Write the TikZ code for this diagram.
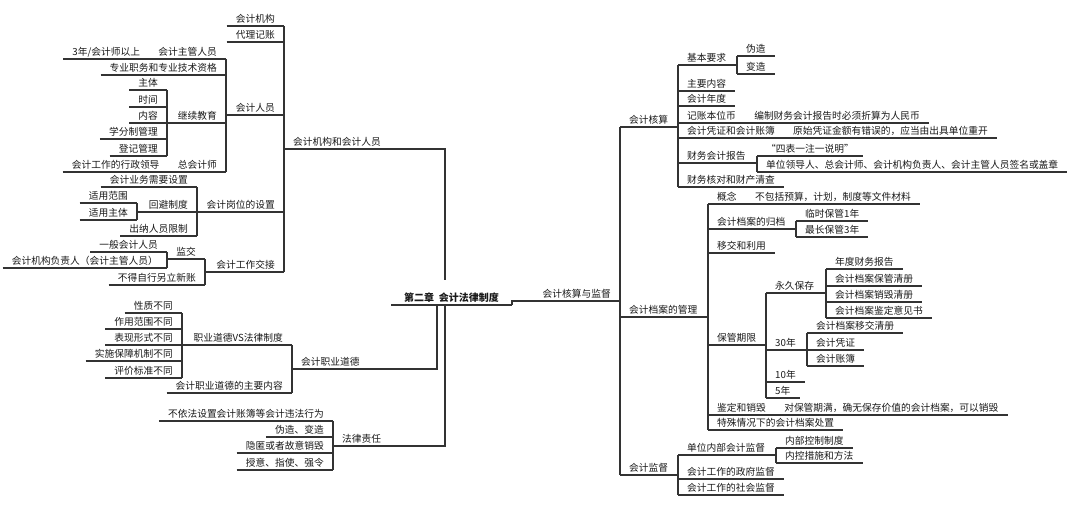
\documentclass[tikz,border=0pt]{standalone}
\usepackage{fontspec}
\setmainfont{Noto Sans CJK SC}
\usepackage{tikz}
\tikzset{font=\fontsize{7.3pt}{8.5pt}\selectfont,
  box/.style={inner xsep=6.5pt,inner ysep=1.6pt,text depth=0.6pt,text=black!90,
    append after command={(\tikzlastnode.south west) edge (\tikzlastnode.south east)}},
  lbox/.style={box,anchor=south east},
  rbox/.style={box,anchor=south west},
  root/.style={box,anchor=south west,inner xsep=9.5pt,font=\fontsize{7.5pt}{9pt}\selectfont\bfseries},
  elbow/.style={to path={-| (\tikztotarget)}},
  elbowv/.style={to path={|- (\tikztotarget)}}}

\begin{document}
\begin{tikzpicture}[x=0.75pt,y=-0.75pt,color=black!80,line width=0.8pt]
\useasboundingbox (0,0) rectangle (1080,510);
% centre
\node[root] (ZH) at (391,305) {第二章~~会计法律制度};
\coordinate (zt) at (445,280);
\coordinate (zb1) at (437,305);
\coordinate (zb2) at (445,305);
% 会计机构和会计人员
\node[rbox] (JG) at (284,149) {会计机构和会计人员};
\node[lbox] (JG1) at (284,26) {会计机构};
\node[lbox] (JG2) at (284,42) {代理记账};
\node[lbox] (RY) at (284,115) {会计人员};
\node[lbox] (GW) at (284,212) {会计岗位的设置};
\node[lbox] (JJ) at (284,272) {会计工作交接};
\node[lbox] (ZG) at (226,59) {会计主管人员};
\node[lbox] (ZG1) at (ZG.south west) {3年/会计师以上};
\node[lbox] (ZY) at (226,75) {专业职务和专业技术资格};
\node[lbox] (JY) at (226,123) {继续教育};
\node[lbox] (ZK) at (226,172) {总会计师};
\node[lbox] (ZK1) at (ZK.south west) {会计工作的行政领导};
\node[lbox] (JY1) at (167,90) {主体};
\node[lbox] (JY2) at (167,107) {时间};
\node[lbox] (JY3) at (167,123) {内容};
\node[lbox] (JY4) at (167,139) {学分制管理};
\node[lbox] (JY5) at (167,156) {登记管理};
\node[lbox] (GW1) at (197,187) {会计业务需要设置};
\node[lbox] (HB) at (197,212) {回避制度};
\node[lbox] (GW2) at (197,236) {出纳人员限制};
\node[lbox] (HB1) at (137,203) {适用范围};
\node[lbox] (HB2) at (137,220) {适用主体};
\node[lbox] (JX) at (205,259) {监交};
\node[lbox] (JJ1) at (205,285) {不得自行另立新账};
\node[lbox] (JX1) at (167,252) {一般会计人员};
\node[lbox] (JX2) at (167,268) {会计机构负责人（会计主管人员）};
% 会计职业道德
\node[rbox] (DD) at (292,369) {会计职业道德};
\node[lbox] (VS) at (292,345) {职业道德VS法律制度};
\node[lbox] (DD2) at (292,393) {会计职业道德的主要内容};
\node[lbox] (VS1) at (182,313) {性质不同};
\node[lbox] (VS2) at (182,329) {作用范围不同};
\node[lbox] (VS3) at (182,345) {表现形式不同};
\node[lbox] (VS4) at (182,361) {实施保障机制不同};
\node[lbox] (VS5) at (182,378) {评价标准不同};
% 法律责任
\node[rbox] (ZR) at (333,446) {法律责任};
\node[lbox] (ZR1) at (333,421) {不依法设置会计账簿等会计违法行为};
\node[lbox] (ZR2) at (333,437) {伪造、变造};
\node[lbox] (ZR3) at (333,453) {隐匿或者故意销毁};
\node[lbox] (ZR4) at (333,470) {授意、指使、强令};
% 会计核算与监督
\node[lbox] (HS) at (620,301) {会计核算与监督};
\node[rbox] (HE) at (620,127) {会计核算};
\node[rbox] (DA) at (620,317) {会计档案的管理};
\node[rbox] (JD) at (620,475) {会计监督};
\node[rbox] (HE1) at (678,65) {基本要求};
\node[rbox] (HE1a) at (737,56) {伪造};
\node[rbox] (HE1b) at (737,74) {变造};
\node[rbox] (HE2) at (678,91) {主要内容};
\node[rbox] (HE3) at (678,106) {会计年度};
\node[rbox] (HE4) at (678,123) {记账本位币};
\node[rbox] (HE4a) at (HE4.south east) {编制财务会计报告时必须折算为人民币};
\node[rbox] (HE5) at (678,138) {会计凭证和会计账簿};
\node[rbox] (HE5a) at (HE5.south east) {原始凭证金额有错误的，应当由出具单位重开};
\node[rbox] (HE6) at (678,163) {财务会计报告};
\node[rbox] (HE6a) at (757,156) {“四表一注一说明”};
\node[rbox] (HE6b) at (757,172) {单位领导人、总会计师、会计机构负责人、会计主管人员签名或盖章};
\node[rbox] (HE7) at (678,187) {财务核对和财产清查};
\node[rbox] (DA1) at (708,204) {概念};
\node[rbox] (DA1a) at (DA1.south east) {不包括预算，计划，制度等文件材料};
\node[rbox] (DA2) at (708,229) {会计档案的归档};
\node[rbox] (DA2a) at (796,221) {临时保管1年};
\node[rbox] (DA2b) at (796,237) {最长保管3年};
\node[rbox] (DA3) at (708,253) {移交和利用};
\node[rbox] (QX) at (708,345) {保管期限};
\node[rbox] (YJ) at (766,293) {永久保存};
\node[rbox] (YJ1) at (826,269) {年度财务报告};
\node[rbox] (YJ2) at (826,286) {会计档案保管清册};
\node[rbox] (YJ3) at (826,302) {会计档案销毁清册};
\node[rbox] (YJ4) at (826,318) {会计档案鉴定意见书};
\node[rbox] (SS) at (766,350) {30年};
\node[rbox] (SS1) at (807,333) {会计档案移交清册};
\node[rbox] (SS2) at (807,350) {会计凭证};
\node[rbox] (SS3) at (807,366) {会计账簿};
\node[rbox] (SN) at (766,382) {10年};
\node[rbox] (WN) at (766,398) {5年};
\node[rbox] (DA5) at (708,415) {鉴定和销毁};
\node[rbox] (DA5a) at (DA5.south east) {对保管期满，确无保存价值的会计档案，可以销毁};
\node[rbox] (DA6) at (708,430) {特殊情况下的会计档案处置};
\node[rbox] (JD1) at (678,455) {单位内部会计监督};
\node[rbox] (JD1a) at (776,448) {内部控制制度};
\node[rbox] (JD1b) at (776,463) {内控措施和方法};
\node[rbox] (JD2) at (678,479) {会计工作的政府监督};
\node[rbox] (JD3) at (678,495) {会计工作的社会监督};
% connectors
\path (JG.south east) edge[elbow] (zt);
\path (DD.south east) edge[elbow] (zb1);
\path (ZR.south east) edge[elbow] (zb2);
\path (ZH.south east) edge[elbowv] (HS.south west);
\path (JG.south west) edge[elbow] (JG1.south east) edge[elbow] (JG2.south east) edge[elbow] (RY.south east) edge[elbow] (GW.south east) edge[elbow] (JJ.south east);
\path (RY.south west) edge[elbow] (ZG.south east) edge[elbow] (ZY.south east) edge[elbow] (JY.south east) edge[elbow] (ZK.south east);
\path (ZG.south west) edge (ZG1.south east);
\path (ZK.south west) edge (ZK1.south east);
\path (JY.south west) edge[elbow] (JY1.south east) edge[elbow] (JY2.south east) edge[elbow] (JY3.south east) edge[elbow] (JY4.south east) edge[elbow] (JY5.south east);
\path (GW.south west) edge[elbow] (GW1.south east) edge[elbow] (HB.south east) edge[elbow] (GW2.south east);
\path (HB.south west) edge[elbow] (HB1.south east) edge[elbow] (HB2.south east);
\path (JJ.south west) edge[elbow] (JX.south east) edge[elbow] (JJ1.south east);
\path (JX.south west) edge[elbow] (JX1.south east) edge[elbow] (JX2.south east);
\path (DD.south west) edge[elbow] (VS.south east) edge[elbow] (DD2.south east);
\path (VS.south west) edge[elbow] (VS1.south east) edge[elbow] (VS2.south east) edge[elbow] (VS3.south east) edge[elbow] (VS4.south east) edge[elbow] (VS5.south east);
\path (ZR.south west) edge[elbow] (ZR1.south east) edge[elbow] (ZR2.south east) edge[elbow] (ZR3.south east) edge[elbow] (ZR4.south east);
\path (HS.south east) edge[elbow] (HE.south west) edge[elbow] (DA.south west) edge[elbow] (JD.south west);
\path (HE.south east) edge[elbow] (HE1.south west) edge[elbow] (HE2.south west) edge[elbow] (HE3.south west) edge[elbow] (HE4.south west) edge[elbow] (HE5.south west) edge[elbow] (HE6.south west) edge[elbow] (HE7.south west);
\path (HE1.south east) edge[elbow] (HE1a.south west) edge[elbow] (HE1b.south west);
\path (HE4.south east) edge (HE4a.south west);
\path (HE5.south east) edge (HE5a.south west);
\path (HE6.south east) edge[elbow] (HE6a.south west) edge[elbow] (HE6b.south west);
\path (DA.south east) edge[elbow] (DA1.south west) edge[elbow] (DA2.south west) edge[elbow] (DA3.south west) edge[elbow] (QX.south west) edge[elbow] (DA5.south west) edge[elbow] (DA6.south west);
\path (DA1.south east) edge (DA1a.south west);
\path (DA2.south east) edge[elbow] (DA2a.south west) edge[elbow] (DA2b.south west);
\path (QX.south east) edge[elbow] (YJ.south west) edge[elbow] (SS.south west) edge[elbow] (SN.south west) edge[elbow] (WN.south west);
\path (YJ.south east) edge[elbow] (YJ1.south west) edge[elbow] (YJ2.south west) edge[elbow] (YJ3.south west) edge[elbow] (YJ4.south west);
\path (SS.south east) edge[elbow] (SS1.south west) edge[elbow] (SS2.south west) edge[elbow] (SS3.south west);
\path (DA5.south east) edge (DA5a.south west);
\path (JD.south east) edge[elbow] (JD1.south west) edge[elbow] (JD2.south west) edge[elbow] (JD3.south west);
\path (JD1.south east) edge[elbow] (JD1a.south west) edge[elbow] (JD1b.south west);
\end{tikzpicture}
\end{document}
